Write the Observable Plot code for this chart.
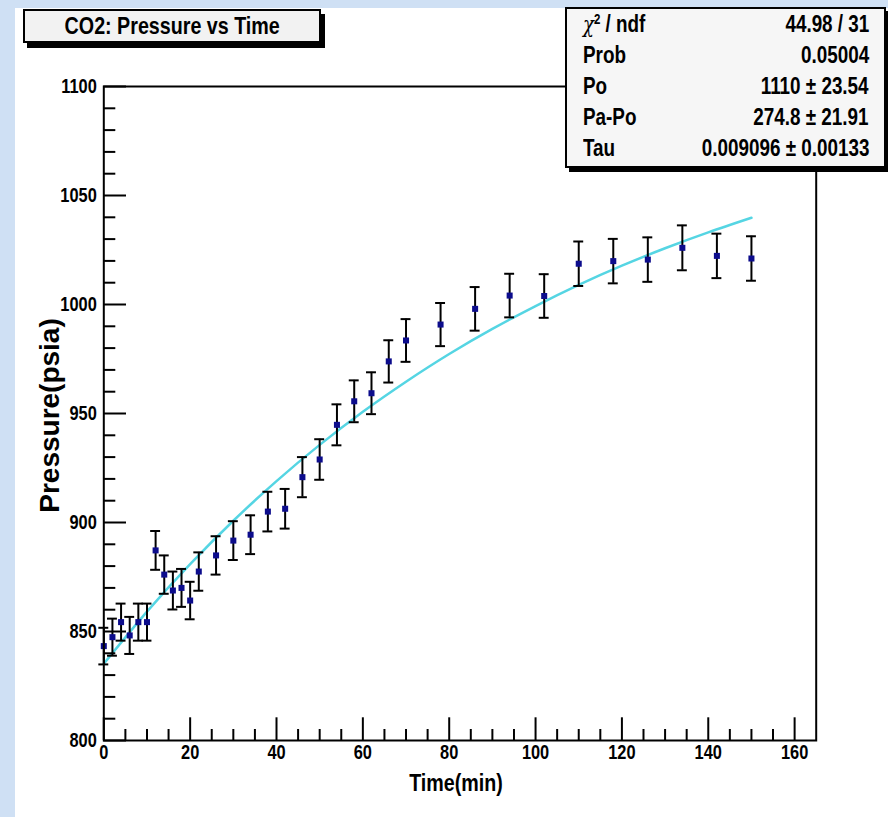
<!DOCTYPE html>
<html>
<head>
<meta charset="utf-8">
<script src="https://cdn.jsdelivr.net/npm/d3@7"></script>
<script src="https://cdn.jsdelivr.net/npm/@observablehq/plot@0.6"></script>
<style>
  html, body { margin: 0; padding: 0; width: 888px; height: 817px; overflow: hidden; background: #cfe0f4; }
  #canvas { position: absolute; left: 15px; top: 8px; right: 0; bottom: 0; background: #ffffff; }
  #chart { position: absolute; left: 0; top: 0; }
  .nf { font-family: "Liberation Sans", Arial, sans-serif; font-weight: bold; color: #000; }
  .cond { display: inline-block; transform: scaleX(0.82); white-space: nowrap; }
  #title { position: absolute; left: 23px; top: 9px; width: 294px; height: 30px; border: 2px solid #000;
           background: #f2f2f2; box-shadow: 4px 5px 0 #000; font-size: 24px; text-align: center; line-height: 30px; }
  #title .cond { transform-origin: 50% 50%; }
  #stats { position: absolute; left: 565px; top: 7px; width: 317px; height: 157px; border: 2px solid #000;
           background: #f6f6f6; box-shadow: 4px 4px 0 #000; font-size: 23px; }
  #stats .row { position: absolute; left: 16px; right: 15px; height: 31px; line-height: 31px; }
  #stats .k { position: absolute; left: 0; transform-origin: 0 50%; }
  #stats .v { position: absolute; right: 0; transform-origin: 100% 50%; }
  #stats .chi { font-family: "DejaVu Serif", serif; font-weight: normal; font-style: italic; font-size: 22px; }
  #stats sup { font-size: 14px; position: relative; top: -3px; vertical-align: top; line-height: 26px; }
</style>
</head>
<body>
<div id="canvas"></div>
<div id="chart"></div>
<div id="title" class="nf"></div>
<div id="stats" class="nf"></div>
<script>
// ---- data ----
const times = [0, 2, 4, 6, 8, 10, 12, 14, 16, 18, 20, 22, 26, 30, 34, 38, 42, 46, 50, 54, 58, 62, 66, 70,
               78, 86, 94, 102, 110, 118, 126, 134, 142, 150];
const pressures = [843.3, 847.4, 854.3, 848.2, 854.3, 854.3, 887.2, 876.1, 868.8, 870.0, 864.2, 877.5,
                   884.9, 891.7, 894.4, 905.0, 906.3, 920.8, 928.9, 944.8, 955.6, 959.3, 973.9, 983.5,
                   990.8, 998.0, 1004.1, 1003.9, 1018.7, 1019.9, 1020.6, 1026.0, 1022.3, 1021.1];
const errors = [8.4, 8.5, 8.5, 8.5, 8.5, 8.5, 8.9, 8.8, 8.7, 8.7, 8.6, 8.8,
                8.8, 8.9, 8.9, 9.1, 9.1, 9.2, 9.3, 9.4, 9.6, 9.6, 9.7, 9.8,
                9.9, 10.0, 10.0, 10.0, 10.2, 10.2, 10.2, 10.3, 10.2, 10.2];
// fitted curve
const fitTimes = [0, 10, 20, 30, 40, 50, 60, 70, 80, 90, 100, 110, 120, 130, 140, 150];
const fitPressures = [835.2, 859.1, 880.9, 900.8, 919.0, 935.6, 950.8, 964.6, 977.3, 988.8, 999.3,
                      1009.0, 1017.8, 1025.8, 1033.1, 1039.8];
// axis ticks
const xMajor = [0, 20, 40, 60, 80, 100, 120, 140, 160];
const xMinor = [5, 10, 15, 25, 30, 35, 45, 50, 55, 65, 70, 75, 85, 90, 95, 105, 110, 115, 125, 130, 135, 145, 150, 155];
const yMajor = [800, 850, 900, 950, 1000, 1050, 1100];
const yMinor = [810, 820, 830, 840, 860, 870, 880, 890, 910, 920, 930, 940, 960, 970, 980, 990,
                1010, 1020, 1030, 1040, 1060, 1070, 1080, 1090];
// stats box
const statNames = ["χ2 / ndf", "Prob", "Po", "Pa-Po", "Tau"];
const statValues = ["44.98 / 31", "0.05004", "1110 ± 23.54", "274.8 ± 21.91", "0.009096 ± 0.00133"];
const titleText = "CO2: Pressure vs Time";
const xLabel = "Time(min)";
const yLabel = "Pressure(psia)";

// ---- build tables ----
const points = times.map((t, i) => ({t, p: pressures[i], e: errors[i]}));
const fit = fitTimes.map((t, i) => ({t, p: fitPressures[i]}));
const capHalf = 1.15; // minutes

const FONT = '"Liberation Sans", Arial, sans-serif';

const chart = Plot.plot({
  width: 888,
  height: 817,
  marginLeft: 103.3,
  marginRight: 72.3,
  marginTop: 86,
  marginBottom: 77,
  style: {background: "transparent", fontFamily: FONT, fontWeight: "bold", color: "#000", overflow: "visible"},
  x: {domain: [0, 165]},
  y: {domain: [800, 1100]},
  marks: [
    // fitted curve
    Plot.line(fit, {x: "t", y: "p", stroke: "#55d5e3", strokeWidth: 2.5, curve: "natural"}),
    // error bars
    Plot.ruleX(points, {x: "t", y1: d => d.p - d.e, y2: d => d.p + d.e, stroke: "#000", strokeWidth: 2}),
    Plot.ruleY(points, {y: d => d.p - d.e, x1: d => d.t - capHalf, x2: d => d.t + capHalf, stroke: "#000", strokeWidth: 2}),
    Plot.ruleY(points, {y: d => d.p + d.e, x1: d => d.t - capHalf, x2: d => d.t + capHalf, stroke: "#000", strokeWidth: 2}),
    // data points
    Plot.dot(points, {x: "t", y: "p", symbol: "square", r: 3.4, fill: "#0c0c8c", stroke: null}),
    // inward ticks
    Plot.axisX({ticks: xMajor, tickSize: -22.7, tickFormat: () => "", label: null, strokeWidth: 2}),
    Plot.axisX({ticks: xMinor, tickSize: -11, tickFormat: () => "", label: null, strokeWidth: 2}),
    Plot.axisY({ticks: yMajor, tickSize: -22.7, tickFormat: () => "", label: null, strokeWidth: 2}),
    Plot.axisY({ticks: yMinor, tickSize: -12, tickFormat: () => "", label: null, strokeWidth: 2}),
    // tick labels
    Plot.axisX({ticks: xMajor, tickSize: 0, tickPadding: 4, fontSize: 20, label: null, tickFormat: d => String(d)}),
    Plot.axisY({ticks: yMajor, tickSize: 0, tickPadding: 7, fontSize: 20, label: null, tickFormat: d => String(d)}),
    // axis titles
    Plot.text([xLabel], {text: d => d, frameAnchor: "bottom", dy: 50, dx: -4, fontSize: 24, fontWeight: "bold"}),
    Plot.text([yLabel], {text: d => d, frameAnchor: "left", textAnchor: "middle", rotate: -90, dx: -54, dy: 2, fontSize: 28, fontWeight: "bold"}),
    Plot.frame({stroke: "#000", strokeWidth: 2})
  ]
});
document.getElementById("chart").appendChild(chart);

// narrow (condensed) look of the original Helvetica-bold text
chart.querySelectorAll("text").forEach(t => {
  if (t.textContent === yLabel) return;
  const tr = t.getAttribute("transform") || "";
  t.setAttribute("transform", (tr + " scale(0.82,1)").trim());
});

const titleSpan = document.createElement("span");
titleSpan.className = "cond";
titleSpan.textContent = titleText;
document.getElementById("title").appendChild(titleSpan);

const stats = document.getElementById("stats");
statNames.forEach((name, i) => {
  const row = document.createElement("div");
  row.className = "row";
  row.style.top = (i * 31) + "px";
  const k = document.createElement("span");
  k.className = "k cond";
  if (name.startsWith("χ2")) {
    k.innerHTML = '<span class="chi">χ</span><sup>2</sup> / ndf';
  } else {
    k.textContent = name;
  }
  const v = document.createElement("span");
  v.className = "v cond";
  v.textContent = statValues[i];
  row.appendChild(k);
  row.appendChild(v);
  stats.appendChild(row);
});
</script>
</body>
</html>
